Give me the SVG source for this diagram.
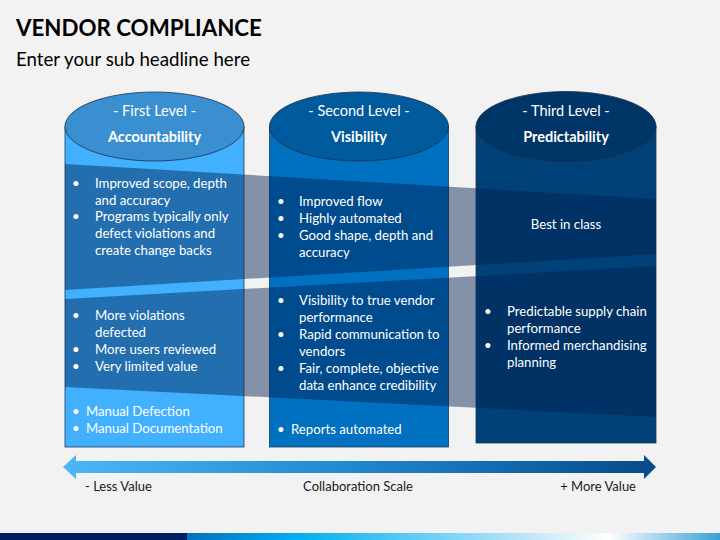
<svg xmlns="http://www.w3.org/2000/svg" width="720" height="540" viewBox="0 0 720 540">
  <defs>
    <linearGradient id="arrowGrad" x1="0" y1="0" x2="1" y2="0">
      <stop offset="0" stop-color="#4fb6f4"/>
      <stop offset="0.5" stop-color="#1f86d0"/>
      <stop offset="1" stop-color="#054a88"/>
    </linearGradient>
    <linearGradient id="stripGrad" x1="187" y1="0" x2="720" y2="0" gradientUnits="userSpaceOnUse">
      <stop offset="0" stop-color="#0070c0"/>
      <stop offset="0.21" stop-color="#00b0f0"/>
      <stop offset="0.64" stop-color="#bfe6f8"/>
      <stop offset="0.79" stop-color="#ffffff"/>
      <stop offset="1" stop-color="#3a9fd8"/>
    </linearGradient>
  </defs>
  <style>
    .t { font-family: Lato, "Liberation Sans", sans-serif; fill: #ffffff; font-size: 13.2px; }
    .hd { font-family: Lato, "Liberation Sans", sans-serif; fill: #ffffff; font-size: 14.5px; text-anchor: middle; }
    .hb { font-weight: bold; }
    .lbl { font-family: Lato, "Liberation Sans", sans-serif; fill: #1a1a1a; font-size: 13px; }
    .body { stroke: #1e3a5c; stroke-width: 0.8; }
    .cap { stroke: #1a2f4c; stroke-width: 0.8; }
    .band { fill: #002050; fill-opacity: 0.46; }
  </style>
  <rect x="0" y="0" width="720" height="540" fill="#f2f2f2"/>

  <g id="title">
    <text x="16" y="36" style="font-family: Lato, 'Liberation Sans', sans-serif; font-weight: bold; font-size: 22.3px; fill: #000;">VENDOR COMPLIANCE</text>
    <text x="16" y="66" style="font-family: Lato, 'Liberation Sans', sans-serif; font-size: 18.7px; fill: #000;">Enter your sub headline here</text>
  </g>

  <g id="col1-shape">
    <rect class="body" x="65" y="126" width="179" height="321" fill="#41b0ff"/>
    <ellipse class="cap" cx="154.5" cy="126.5" rx="89.5" ry="34.5" fill="#3a8fd0"/>
  </g>
  <g id="col2-shape">
    <rect class="body" x="269.5" y="126" width="179" height="321" fill="#0070c0"/>
    <ellipse class="cap" cx="359" cy="126.5" rx="89.5" ry="34.5" fill="#005a9c"/>
  </g>
  <g id="col3-shape">
    <rect class="body" x="476" y="126" width="180" height="317" fill="#004277"/>
    <ellipse class="cap" cx="566" cy="126.5" rx="90" ry="35" fill="#003567"/>
  </g>

  <g id="bands">
    <polygon class="band" points="65,164 656,199 656,254 65,290"/>
    <polygon class="band" points="65,299 656,266 656,417 65,387"/>
  </g>

  <g id="col1">
    <text class="hd" x="154.5" y="116">- First Level -</text>
    <text class="hd hb" x="154.5" y="142">Accountability</text>
    <text class="t" x="72" y="188">•</text>
    <text class="t" x="95" y="188">Improved scope, depth</text>
    <text class="t" x="95" y="205">and accuracy</text>
    <text class="t" x="72" y="221">•</text>
    <text class="t" x="95" y="221">Programs typically only</text>
    <text class="t" x="95" y="238">defect violations and</text>
    <text class="t" x="95" y="255">create change backs</text>
    <text class="t" x="72" y="320">•</text>
    <text class="t" x="95" y="320">More violations</text>
    <text class="t" x="95" y="337">defected</text>
    <text class="t" x="72" y="354">•</text>
    <text class="t" x="95" y="354">More users reviewed</text>
    <text class="t" x="72" y="371">•</text>
    <text class="t" x="95" y="371">Very limited value</text>
    <text class="t" x="72" y="416">•</text>
    <text class="t" x="86" y="416">Manual Defection</text>
    <text class="t" x="72" y="433">•</text>
    <text class="t" x="86" y="433">Manual Documentation</text>
  </g>

  <g id="col2">
    <text class="hd" x="359" y="116">- Second Level -</text>
    <text class="hd hb" x="359" y="142">Visibility</text>
    <text class="t" x="277" y="206">•</text>
    <text class="t" x="299" y="206">Improved flow</text>
    <text class="t" x="277" y="223">•</text>
    <text class="t" x="299" y="223">Highly automated</text>
    <text class="t" x="277" y="240">•</text>
    <text class="t" x="299" y="240">Good shape, depth and</text>
    <text class="t" x="299" y="257">accuracy</text>
    <text class="t" x="277" y="305">•</text>
    <text class="t" x="299" y="305">Visibility to true vendor</text>
    <text class="t" x="299" y="322">performance</text>
    <text class="t" x="277" y="339">•</text>
    <text class="t" x="299" y="339">Rapid communication to</text>
    <text class="t" x="299" y="356">vendors</text>
    <text class="t" x="277" y="373">•</text>
    <text class="t" x="299" y="373">Fair, complete, objective</text>
    <text class="t" x="299" y="390">data enhance credibility</text>
    <text class="t" x="277" y="434">•</text>
    <text class="t" x="291" y="434">Reports automated</text>
  </g>

  <g id="col3">
    <text class="hd" x="566" y="116">- Third Level -</text>
    <text class="hd hb" x="566" y="142">Predictability</text>
    <text class="t" x="566" y="229" text-anchor="middle">Best in class</text>
    <text class="t" x="484" y="316">•</text>
    <text class="t" x="507" y="316">Predictable supply chain</text>
    <text class="t" x="507" y="333">performance</text>
    <text class="t" x="484" y="350">•</text>
    <text class="t" x="507" y="350">Informed merchandising</text>
    <text class="t" x="507" y="367">planning</text>
  </g>

  <g id="connectors">
    <path id="scale-arrow" d="M63,467 L76,455 L76,461 L644,461 L644,455 L656,467 L644,479 L644,473 L76,473 L76,479 Z" fill="url(#arrowGrad)"/>
  </g>

  <g id="scale-labels">
    <text class="lbl" x="85" y="491">- Less Value</text>
    <text class="lbl" x="358" y="491" text-anchor="middle">Collaboration Scale</text>
    <text class="lbl" x="636" y="491" text-anchor="end">+ More Value</text>
  </g>

  <g id="footer-strip">
    <rect x="0" y="533" width="187" height="7" fill="#002060"/>
    <rect x="187" y="533" width="533" height="7" fill="url(#stripGrad)"/>
  </g>
</svg>
